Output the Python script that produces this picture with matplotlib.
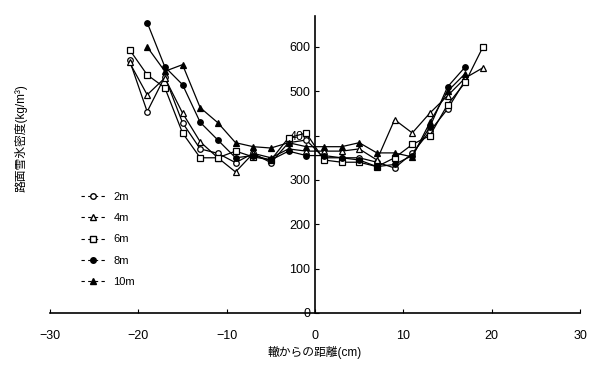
import matplotlib.pyplot as plt
from matplotlib.lines import Line2D

plt.rcParams['font.family'] = ['Liberation Sans', 'Noto Sans CJK JP', 'DejaVu Sans']

# distance from the rut (cm)
x = [-21, -19, -17, -15, -13, -11, -9, -7, -5, -3, -1, 1, 3, 5, 7, 9, 11, 13, 15, 17, 19]

d2 = [570, 454, 533, 429, 370, 360, 339, 360, 339, 384, 390, 350, 350, 350, 340, 327, 360, 410, 460, 525, None]
d4 = [565, 492, 530, 451, 386, 350, 318, 360, 350, 370, 365, 365, 365, 370, 345, 436, 406, 451, 490, 530, 553]
d6 = [594, 537, 508, 406, 350, 350, 365, 352, 345, 395, 406, 345, 340, 340, 330, 350, 380, 400, 470, 520, 600]
d8 = [None, 655, 555, 515, 430, 390, 350, 355, 345, 365, 355, 355, 350, 345, 330, 335, 355, 420, 510, 555, None]
d10 = [None, 600, 545, 560, 463, 429, 384, 375, 372, 384, 375, 375, 375, 384, 361, 361, 352, 430, 500, 540, None]

labels = ['2m', '4m', '6m', '8m', '10m']
markers = ['o', '^', 's', 'o', '^']
fills = ['white', 'white', 'white', 'black', 'black']


def pts(ys):
    xs2 = [a for a, b in zip(x, ys) if b is not None]
    ys2 = [b for b in ys if b is not None]
    return xs2, ys2


fig = plt.figure(figsize=(5.93, 3.65), dpi=100)
ax = fig.add_axes([0.0843, 0.1425, 0.894, 0.814])

handles = []
for ys, lab, m, fc in zip([d2, d4, d6, d8, d10], labels, markers, fills):
    xs2, ys2 = pts(ys)
    ax.plot(xs2, ys2, color='black', lw=0.9, marker=m, ms=4,
            mfc=fc, mec='black', mew=0.9)
    handles.append(Line2D([], [], color='black', lw=0.8, ls=(0, (3, 3)),
                          marker=m, ms=4, mfc=fc, mec='black', label=lab))

ax.set_xlim(-30, 30)
ax.set_ylim(0, 670)
ax.set_xticks([-30, -20, -10, 0, 10, 20, 30])
ax.set_yticks([0, 100, 200, 300, 400, 500, 600])

ax.spines['top'].set_visible(False)
ax.spines['right'].set_visible(False)
ax.spines['left'].set_position(('data', 0))
ax.spines['left'].set_linewidth(1.2)
ax.spines['bottom'].set_linewidth(1.2)
ax.tick_params(direction='in', length=3, labelsize=9)
ax.tick_params(axis='x', pad=12)

ax.set_xlabel('轍からの距離(cm)', fontsize=8.5, labelpad=3)
ax.text(-33.3, 395, '路面雪氷密度(kg/m³)', rotation=90, fontsize=8.5,
        ha='center', va='center')

ax.legend(handles=handles, loc='upper left', bbox_to_anchor=(0.04, 0.44),
          frameon=False, fontsize=8, handlelength=2.2, labelspacing=1.0,
          handletextpad=0.7)

fig.savefig('out.png', dpi=100)
